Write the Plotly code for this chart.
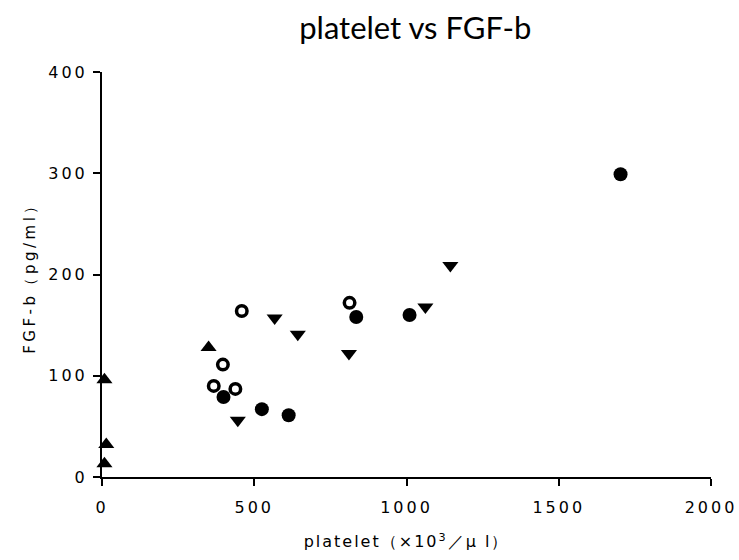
import plotly.graph_objects as go

# Data
filled_x = [1703, 835, 1010, 399, 525, 613]
filled_y = [299, 158, 160, 79, 67, 61]

open_x = [459, 813, 397, 367, 438]
open_y = [164, 172, 111, 90, 87]

down_x = [567, 643, 1062, 811, 446, 1144]
down_y = [157, 141, 168, 122, 56, 209]

up_x = [350, 8, 14, 8]
up_y = [128, 96, 32, 13]

x_ticks = [0, 500, 1000, 1500, 2000]
y_ticks = [0, 100, 200, 300, 400]

fig = go.Figure()
fig.add_trace(go.Scatter(x=filled_x, y=filled_y, mode="markers", cliponaxis=False,
                         marker=dict(symbol="circle", size=14, color="black", line=dict(width=0))))
fig.add_trace(go.Scatter(x=open_x, y=open_y, mode="markers", cliponaxis=False,
                         marker=dict(symbol="circle-open", size=10.5, color="black", line=dict(width=3.5, color="black"))))
fig.add_trace(go.Scatter(x=down_x, y=down_y, mode="markers", cliponaxis=False,
                         marker=dict(symbol="triangle-down", size=14, color="black", line=dict(width=0))))
fig.add_trace(go.Scatter(x=up_x, y=up_y, mode="markers", cliponaxis=False,
                         marker=dict(symbol="triangle-up", size=14, color="black", line=dict(width=0))))

axis_font = dict(family="DejaVu Sans", size=16, color="black")

fig.update_layout(
    width=739, height=560,
    margin=dict(l=102, r=28, t=72, b=83),
    paper_bgcolor="white", plot_bgcolor="white",
    showlegend=False,
    title=dict(text="platelet vs FGF-b", x=0.562, xanchor="center", y=0.95, yanchor="middle",
               font=dict(family="Lato", size=31, color="black")),
    xaxis=dict(range=[0, 2000], tickvals=x_ticks, ticktext=[str(v) for v in x_ticks],
               automargin=False,
               showgrid=False, zeroline=False, showline=True, linecolor="black", linewidth=2,
               ticks="outside", ticklen=7, tickwidth=2, tickcolor="black",
               tickfont=axis_font, ticklabelstandoff=8,
               title=dict(text="platelet（×10<sup>3</sup>／μ l）", standoff=20,
                          font=dict(family="DejaVu Sans", size=16, color="black"))),
    yaxis=dict(range=[0, 400], tickvals=y_ticks, ticktext=[str(v) for v in y_ticks],
               automargin=False,
               showgrid=False, zeroline=False, showline=True, linecolor="black", linewidth=2,
               ticks="outside", ticklen=7, tickwidth=2, tickcolor="black",
               tickfont=axis_font, ticklabelstandoff=2,
               title=dict(text="FGF-b（pg/ml）", standoff=18,
                          font=dict(family="DejaVu Sans", size=15, color="black"))),
)

post = """
var st = document.createElement('style');
st.textContent = '.xtick text, .ytick text {letter-spacing: 3px;} .g-xtitle text {letter-spacing: 2px;} .g-ytitle text {letter-spacing: 3.5px;}';
document.head.appendChild(st);
"""

fig.write_html("out.html", post_script=post)
